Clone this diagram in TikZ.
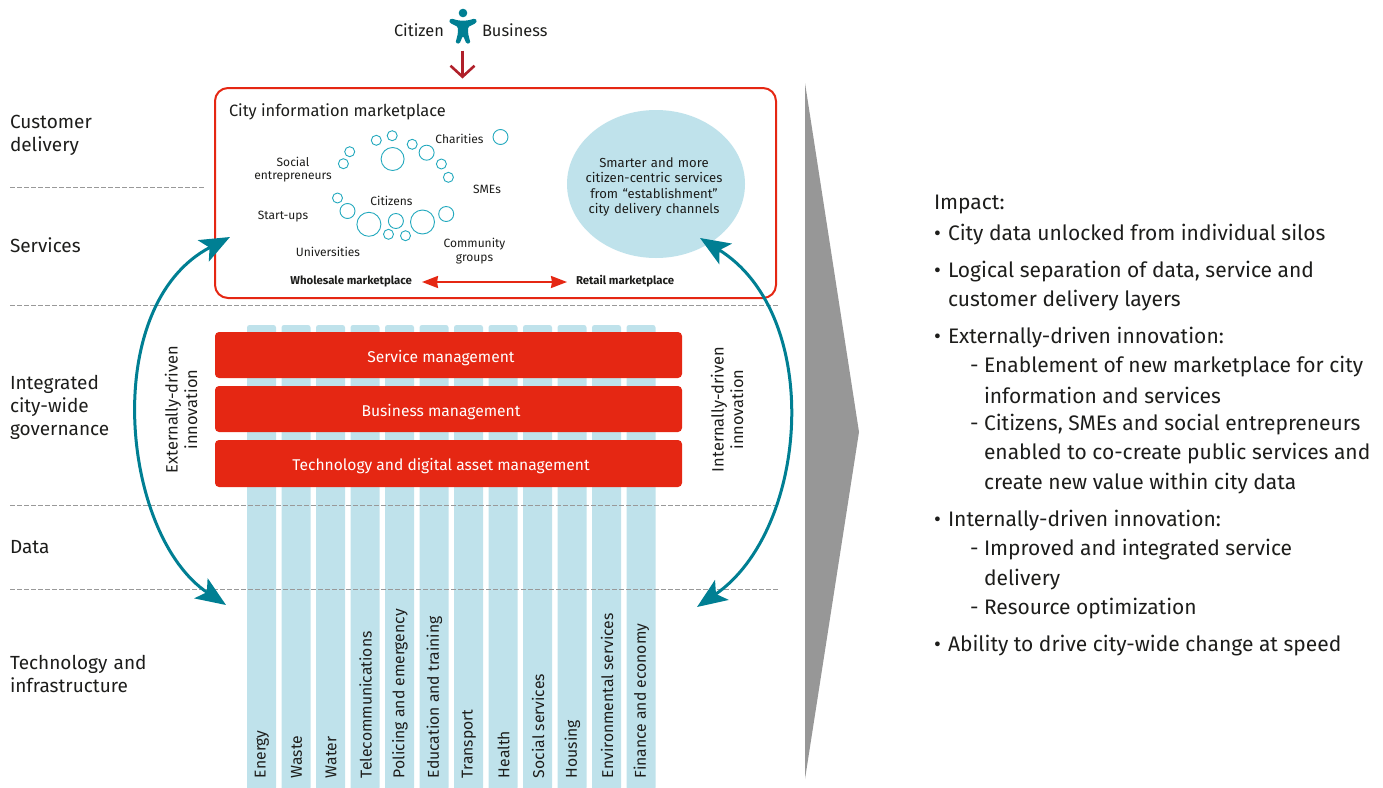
\documentclass[tikz,border=0pt]{standalone}
\usepackage{fontspec}
\setmainfont{Fira Sans}
\usetikzlibrary{arrows.meta,shapes.geometric}
\definecolor{teal1}{HTML}{007F93}
\definecolor{red1}{HTML}{E52713}
\definecolor{dred}{HTML}{B0202A}
\definecolor{pale}{HTML}{BFE2EB}
\definecolor{ink}{HTML}{1D1D1B}
\definecolor{ring}{HTML}{23A9BE}
\definecolor{wedge}{HTML}{979797}
\newcommand{\fs}[1]{\fontsize{#1}{#1}\selectfont}
\newcommand{\bul}[1]{\makebox[14pt][l]{#1}}
\tikzset{
  txt/.style={inner sep=0pt,outer sep=0pt,text=ink},
  layer/.style={txt,anchor=west,align=left,font=\fs{19},text width=150pt},
  dashline/.style={draw=black!40,line width=0.8pt,dash pattern=on 4.5pt off 2.5pt},
  col/.style={fill=pale,rounded corners=2.5pt,draw=none},
  bar/.style={fill=red1,rounded corners=4pt,minimum width=467pt,inner sep=0pt},
  barlab/.style={txt,text=white,font=\fs{15.6}},
  rlab/.style={txt,rotate=90,anchor=west,font=\fs{15.7}},
  small/.style={txt,font=\fs{12},align=center},
  bold/.style={txt,font=\fs{11.4}\bfseries},
  circ/.style={draw=ring,line width=0.9pt,fill=white,circle,inner sep=0pt},
  cycle arrow/.style={draw=teal1,line width=3pt,{Stealth[length=30pt,width=24pt,inset=7pt]}-{Stealth[length=30pt,width=24pt,inset=7pt]}},
  imp/.style={txt,anchor=west,font=\fs{21}},
  vert/.style={txt,rotate=90,align=center,font=\fs{16.4}},
}
\newcommand{\ring}[4]{\node[circ,minimum size=#3*2pt] (#4) at (#1,#2) {};}
\begin{document}
\begin{tikzpicture}[x=1pt,y=-1pt]
\useasboundingbox (0,0) rectangle (1383,787);
% dashed layer lines
\coordinate (d1a) at (10,187);\coordinate (d1b) at (205,187);
\coordinate (d2a) at (10,305.5);\coordinate (d2b) at (778,305.5);
\coordinate (d3a) at (10,505);\coordinate (d3b) at (778,505);
\coordinate (d4a) at (10,589);\coordinate (d4b) at (778,589);
% columns
\foreach \i/\lab in {0/Energy,1/Waste,2/Water,3/Telecommunications,4/Policing and emergency,5/Education and training,6/Transport,7/Health,8/Social services,9/Housing,10/Environmental services,11/Finance and economy}{
  \pgfmathsetmacro{\xa}{247+34.5*\i}
  \fill[col] (\xa,325) rectangle (\xa+29,790);
  \node[rlab] (col\i) at (\xa+15,778) {\lab};
}
\draw[dashline] (d1a) -- (d1b);
\draw[dashline] (d2a) -- (d2b);
\draw[dashline] (d3a) -- (d3b);
\draw[dashline] (d4a) -- (d4b);
% left labels
\node[layer] (l1) at (10,135.5) {Customer\\[4pt]delivery};
\node[layer] (l2) at (10,245) {Services};
\node[layer] (l3) at (10,407.5) {Integrated\\[4pt]city-wide\\[4pt]governance};
\node[layer] (l4) at (10,547) {Data};
\node[layer] (l5) at (10,674) {Technology and\\[3.5pt]infrastructure};
% bars
\node[bar,minimum height=46pt] (b1) at (448.5,355) {};
\node[bar,minimum height=46pt] (b2) at (448.5,409) {};
\node[bar,minimum height=47pt] (b3) at (448.5,463.5) {};
\node[barlab] (b1t) at (441,358) {Service management};
\node[barlab] (b2t) at (441,412) {Business management};
\node[barlab] (b3t) at (441,466) {Technology and digital asset management};
% marketplace
\node[draw=red1,line width=2pt,rounded corners=13pt,minimum width=561pt,minimum height=210pt,inner sep=0pt,fill=white] (mk) at (495.5,193) {};
\node[txt,anchor=west,font=\fs{16.4}] (mkt) at (229,112) {City information marketplace};
\node[ellipse,fill=pale,minimum width=178pt,minimum height=148pt,inner sep=0pt] (el) at (656,184) {};
\node[small,font=\fs{13.1},text width=170pt] (elt) at (654,187) {Smarter and more\\[2.3pt]citizen-centric services\\[2.3pt]from “establishment”\\[2.3pt]city delivery channels};
\ring{376.3}{140.3}{5}{c1}\ring{392.2}{135.7}{5}{c2}\ring{412.2}{144.3}{5}{c3}\ring{426.6}{152.7}{7.5}{c4}
\ring{392.6}{159}{11.5}{c5}\ring{441.4}{164}{5}{c6}\ring{448.4}{177.3}{5}{c7}\ring{349.7}{151.7}{5}{c8}
\ring{343.4}{163.7}{5}{c9}\ring{500.5}{137}{7.5}{c10}\ring{337.5}{198}{5}{c11}\ring{347.5}{211}{7.5}{c12}
\ring{368.9}{224.3}{12}{c13}\ring{395.9}{221}{7.5}{c14}\ring{422.5}{222}{12}{c15}\ring{446.2}{214}{7.5}{c16}
\ring{388.5}{234.3}{5}{c17}\ring{405.5}{235.7}{5}{c18}
\node[small] (t1) at (459.5,139) {Charities};
\node[small] (t2) at (293,170) {Social\\[1pt]entrepreneurs};
\node[small] (t3) at (487,189) {SMEs};
\node[small] (t4) at (391.5,201) {Citizens};
\node[small] (t5) at (283,217) {Start-ups};
\node[small] (t6) at (328,252) {Universities};
\node[small] (t7) at (474.5,251) {Community\\[2pt]groups};
\node[bold,anchor=east] (w) at (412,281.5) {Wholesale marketplace};
\node[bold,anchor=west] (r) at (576,281.5) {Retail marketplace};
\draw[draw=red1,line width=2pt,{Stealth[length=16pt,width=12pt,inset=1pt]}-{Stealth[length=16pt,width=12pt,inset=1pt]}] ([xshift=10pt,yshift=-0.5pt]w.east) -- ([xshift=-9pt,yshift=-0.5pt]r.west);
% top
\node[txt,anchor=east,font=\fs{16.4}] (ci) at (444,30) {Citizen};
\node[txt,anchor=west,font=\fs{16.4}] (bu) at (482,30) {Business};
\fill[teal1] (463,13) circle (4.3pt);
\fill[teal1,rounded corners=1.3pt] (449,20.5) -- (451,18.5) -- (458.5,20.5) -- (467.5,20.5) -- (475,18.5) -- (477,20.5) -- (476,23) -- (468,27)
  -- (468.2,34) -- (470.5,43) -- (466.5,43.8) -- (463.2,36) -- (462.8,36) -- (459.5,43.8) -- (455.5,43) -- (457.8,34) -- (458,27) -- (450,23) -- cycle;
\coordinate (ar1) at (462.5,50.5);\coordinate (ar2) at (462.5,78.5);
\draw[draw=dred,line width=2.6pt,-{Straight Barb[length=11pt,width=24pt]}] (ar1) -- (ar2);
% cycle arrows
\coordinate (la) at (230,237);\coordinate (lb) at (226,605);
\coordinate (ra) at (700,238);\coordinate (rb) at (697,607);
\draw[cycle arrow] (la) .. controls (99,305) and (121,535) .. (lb);
\draw[cycle arrow] (ra) .. controls (824,315) and (809,530) .. (rb);
\node[vert] (ex) at (181,409.5) {Externally-driven\\[3pt]innovation};
\node[vert] (in) at (727,409.5) {Internally-driven\\[3pt]innovation};
% big arrow
\fill[wedge] (805,83) -- (859,432) -- (805,779) -- cycle;
% impact
\node[imp] (i0) at (934,204.5) {Impact:};
\node[imp] (i1) at (934,234.5) {\bul{•}City data unlocked from individual silos};
\node[imp] (i2) at (934,271.5) {\bul{•}Logical separation of data, service and};
\node[imp] (i3) at (948,300.5) {customer delivery layers};
\node[imp] (i4) at (934,337.5) {\bul{•}Externally-driven innovation:};
\node[imp] (i5) at (970,366.5) {\bul{-}Enablement of new marketplace for city};
\node[imp] (i6) at (984,395) {information and services};
\node[imp] (i7) at (970,425) {\bul{-}Citizens, SMEs and social entrepreneurs};
\node[imp] (i8) at (984,454) {enabled to co-create public services and};
\node[imp] (i9) at (984,483.5) {create new value within city data};
\node[imp] (i10) at (934,520.5) {\bul{•}Internally-driven innovation:};
\node[imp] (i11) at (970,550) {\bul{-}Improved and integrated service};
\node[imp] (i12) at (984,579.5) {delivery};
\node[imp] (i13) at (970,608.5) {\bul{-}Resource optimization};
\node[imp] (i14) at (934,645.5) {\bul{•}Ability to drive city-wide change at speed};
\end{tikzpicture}
\end{document}
